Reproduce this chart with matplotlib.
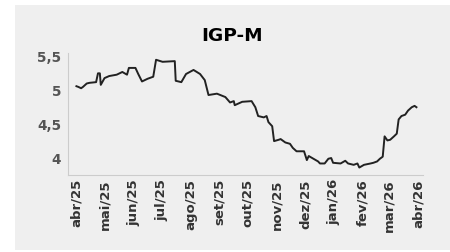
import pandas as pd
import matplotlib
matplotlib.use("Agg")
import matplotlib.pyplot as plt
from matplotlib.patches import Rectangle
from matplotlib.ticker import FuncFormatter

# IGP-M expectations
dates = ["2025-04-01", "2025-04-03", "2025-04-06", "2025-04-08", "2025-04-12", "2025-04-15",
         "2025-04-22", "2025-04-24", "2025-04-26", "2025-04-27", "2025-05-01", "2025-05-06",
         "2025-05-14", "2025-05-20", "2025-05-25", "2025-05-27", "2025-06-03", "2025-06-06",
         "2025-06-10", "2025-06-16", "2025-06-22", "2025-06-25", "2025-07-02", "2025-07-15",
         "2025-07-16", "2025-07-22", "2025-07-27", "2025-08-04", "2025-08-11", "2025-08-16",
         "2025-08-20", "2025-08-29", "2025-09-07", "2025-09-12", "2025-09-16", "2025-09-17",
         "2025-09-25", "2025-10-05", "2025-10-09", "2025-10-12", "2025-10-18", "2025-10-21",
         "2025-10-23", "2025-10-27", "2025-10-29", "2025-11-03", "2025-11-05", "2025-11-10",
         "2025-11-15", "2025-11-18", "2025-11-22", "2025-11-30", "2025-12-03", "2025-12-05",
         "2025-12-10", "2025-12-15", "2025-12-17", "2025-12-22", "2025-12-26", "2025-12-29",
         "2025-12-31", "2026-01-08", "2026-01-13", "2026-01-16", "2026-01-22", "2026-01-26",
         "2026-01-28", "2026-02-02", "2026-02-09", "2026-02-12", "2026-02-16", "2026-02-19",
         "2026-02-22", "2026-02-24", "2026-02-27", "2026-03-02", "2026-03-06", "2026-03-09",
         "2026-03-11", "2026-03-14", "2026-03-18", "2026-03-21", "2026-03-25", "2026-03-28",
         "2026-03-30"]
values = [5.06, 5.05, 5.03, 5.05, 5.10, 5.11,
          5.12, 5.25, 5.25, 5.08, 5.18, 5.21,
          5.23, 5.27, 5.23, 5.33, 5.33, 5.24,
          5.13, 5.17, 5.20, 5.45, 5.42, 5.43,
          5.14, 5.12, 5.24, 5.30, 5.24, 5.15,
          4.93, 4.95, 4.90, 4.82, 4.84, 4.78,
          4.83, 4.84, 4.75, 4.62, 4.60, 4.62,
          4.53, 4.47, 4.25, 4.27, 4.28, 4.23,
          4.21, 4.15, 4.10, 4.10, 3.97, 4.03,
          3.99, 3.95, 3.92, 3.92, 3.99, 4.00,
          3.93, 3.92, 3.96, 3.92, 3.90, 3.92,
          3.86, 3.90, 3.92, 3.93, 3.95, 3.99,
          4.02, 4.32, 4.26, 4.27, 4.32, 4.36,
          4.57, 4.62, 4.64, 4.70, 4.75, 4.77,
          4.75]

month_labels = ["abr/25", "mai/25", "jun/25", "jul/25", "ago/25", "set/25", "out/25",
                "nov/25", "dez/25", "jan/26", "fev/26", "mar/26", "abr/26"]
y_ticks = [4, 4.5, 5, 5.5]

df = pd.DataFrame({"data": pd.to_datetime(dates), "valor": values})
month_ticks = pd.date_range("2025-04-01", periods=len(month_labels), freq="MS")

fig = plt.figure(figsize=(4.5, 2.52), dpi=100)
fig.patch.set_facecolor("white")
card = Rectangle((15 / 450, 2 / 252), 435 / 450, 245 / 252,
                 transform=fig.transFigure, facecolor="#efefef",
                 edgecolor="none", zorder=-10)
fig.add_artist(card)

ax = fig.add_axes([68 / 450, 77 / 252, 355 / 450, 122 / 252])
ax.set_zorder(1)
ax.patch.set_alpha(0)
ax.plot(df["data"], df["valor"], color="#222222", linewidth=1.4)

ax.set_xlim(pd.Timestamp("2025-03-23"), pd.Timestamp("2026-04-06"))
ax.set_ylim(3.75, 5.55)
ax.set_xticks(month_ticks)
ax.set_xticklabels(month_labels, rotation=90, fontsize=9.5, fontweight="bold", color="#333333")
ax.set_yticks(y_ticks)
ax.yaxis.set_major_formatter(FuncFormatter(lambda v, p: ("%g" % v).replace(".", ",")))
for lab in ax.get_yticklabels():
    lab.set_fontsize(9.8)
    lab.set_fontweight("bold")
    lab.set_color("#555555")
ax.tick_params(axis="both", length=0)
ax.tick_params(axis="y", pad=5)
ax.tick_params(axis="x", pad=3)

for s in ["top", "right"]:
    ax.spines[s].set_visible(False)
for s in ["left", "bottom"]:
    ax.spines[s].set_color("#cccccc")
    ax.spines[s].set_linewidth(0.8)

fig.text(232 / 450, 1 - 36 / 252, "IGP-M", ha="center", va="center",
         fontsize=13.3, fontweight="bold", color="black")

fig.savefig("out.png", dpi=100, facecolor=fig.get_facecolor())
